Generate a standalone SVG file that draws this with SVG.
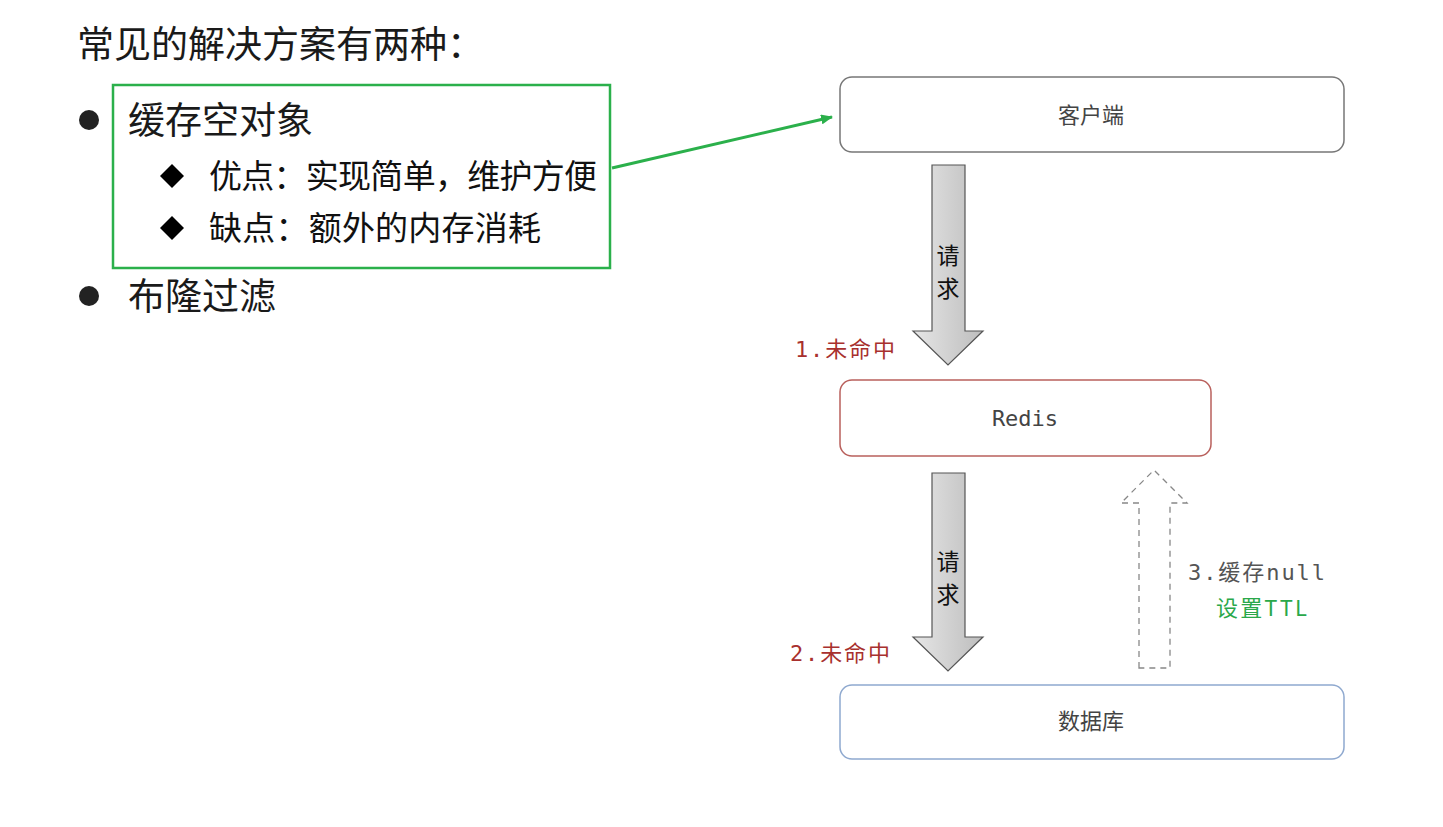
<svg xmlns="http://www.w3.org/2000/svg" width="1443" height="827" viewBox="0 0 1443 827">
<style>
.cjk{font-family:"Noto Sans CJK SC","Noto Sans",sans-serif;}
.mono{font-family:"DejaVu Sans Mono","Noto Sans CJK SC",monospace;}
.h1{font-size:37px;fill:#1a1a1a;}
.h2{font-size:33px;fill:#111;}
.node{fill:#fff;stroke-width:1.5;}
.lbl{font-size:22px;fill:#444;text-anchor:middle;}
.blk{stroke:#555;stroke-width:1.2;fill:url(#g);}
.vt{font-size:23px;fill:#111;text-anchor:middle;}
.red{fill:#a8302e;font-size:22px;}
</style>
<defs>
<linearGradient id="g" x1="0" y1="0" x2="1" y2="0">
<stop offset="0" stop-color="#e6e6e6"/>
<stop offset="1" stop-color="#bdbdbd"/>
</linearGradient>
<marker id="ga" markerWidth="12" markerHeight="10" refX="11" refY="5" orient="auto" markerUnits="userSpaceOnUse">
<path d="M0,0 L12,5 L0,10 Z" fill="#2bb04b"/>
</marker>
</defs>
<rect width="1443" height="827" fill="#fff"/>
<g id="text-left">
<text class="cjk h1" x="77" y="58" font-size="36">常见的解决方案有两种：</text>
<circle cx="89" cy="120" r="10" fill="#222"/>
<text class="cjk h1" x="128" y="134">缓存空对象</text>
<polygon points="172,164 184,176 172,188 160,176" fill="#000"/>
<text class="cjk h2" x="209" y="188" textLength="388" lengthAdjust="spacing">优点：实现简单，维护方便</text>
<polygon points="172,216 184,228 172,240 160,228" fill="#000"/>
<text class="cjk h2" x="209" y="240" textLength="332" lengthAdjust="spacing">缺点：额外的内存消耗</text>
<circle cx="89" cy="296" r="10" fill="#222"/>
<text class="cjk h1" x="128" y="310">布隆过滤</text>
</g>
<g id="highlight">
<rect x="113" y="85" width="497" height="183" fill="none" stroke="#2bb04b" stroke-width="2.5"/>
</g>
<g id="client">
<rect class="node" x="840" y="77" width="504" height="75" rx="12" stroke="#777"/>
<text class="cjk lbl" x="1091" y="123">客户端</text>
</g>
<g id="redis">
<rect class="node" x="840" y="380" width="371" height="76" rx="12" stroke="#b9605c"/>
<text class="mono lbl" x="1025" y="426" font-size="23">Redis</text>
</g>
<g id="db">
<rect class="node" x="840" y="685" width="504" height="74" rx="12" stroke="#8fa9cf"/>
<text class="cjk lbl" x="1091" y="729">数据库</text>
</g>
<g id="connectors">
<line x1="612" y1="168" x2="832" y2="117" stroke="#2bb04b" stroke-width="3" marker-end="url(#ga)"/>
<path class="blk" d="M932,165 H965 V331 H983 L948,365 L913,331 H932 Z"/>
<text class="cjk vt" x="948" y="264">请</text>
<text class="cjk vt" x="948" y="297">求</text>
<text class="mono red" x="795" y="357" textLength="100" lengthAdjust="spacing">1.未命中</text>
<path class="blk" d="M932,473 H965 V637 H983 L948,671 L913,637 H932 Z"/>
<text class="cjk vt" x="948" y="570">请</text>
<text class="cjk vt" x="948" y="603">求</text>
<text class="mono red" x="790" y="661" textLength="100" lengthAdjust="spacing">2.未命中</text>
<path d="M1139,668 V503 H1121 L1154,470 L1187,503 H1170 V668 Z" fill="none" stroke="#888" stroke-width="1.3" stroke-dasharray="6,5"/>
<text class="mono" x="1188" y="580" font-size="22" fill="#555" textLength="137" lengthAdjust="spacing">3.缓存null</text>
<text class="cjk" x="1216" y="616" font-size="22" fill="#2aa84a" textLength="91" lengthAdjust="spacing">设置TTL</text>
</g>
</svg>
